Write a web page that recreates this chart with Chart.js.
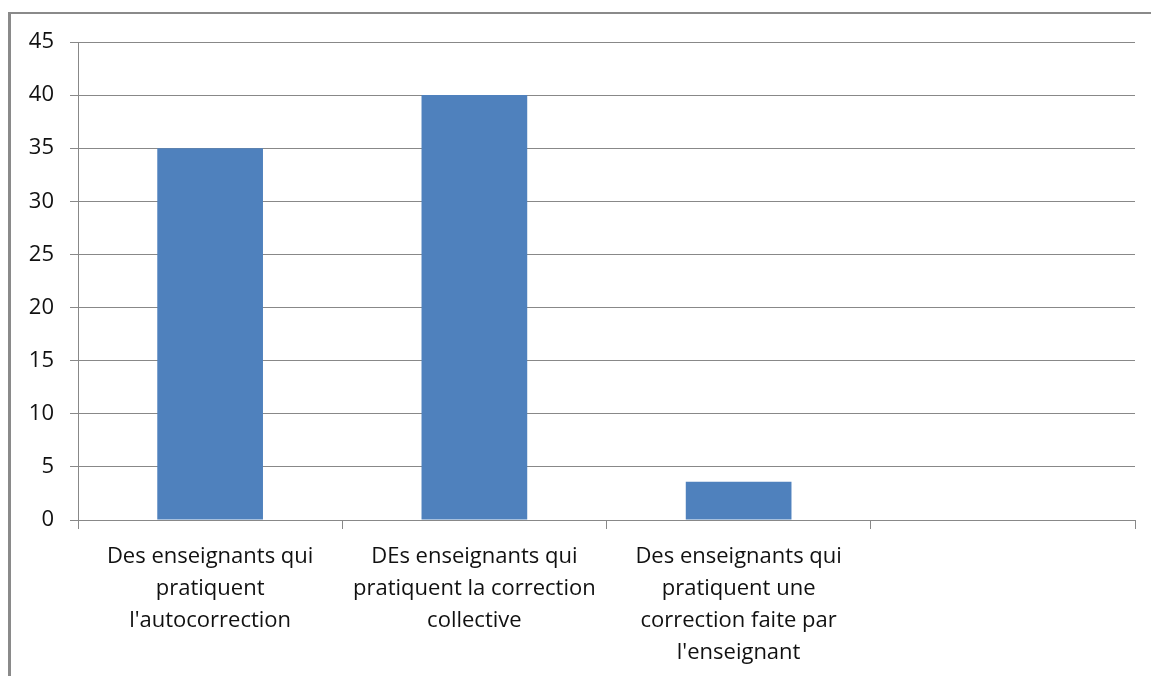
<!DOCTYPE html>
<html>
<head>
<meta charset="utf-8">
<script src="https://cdn.jsdelivr.net/npm/chart.js@4/dist/chart.umd.min.js"></script>
<style>
  html, body { margin: 0; padding: 0; background: #fff; }
  #wrap { position: relative; width: 1151px; height: 676px; }
  #frame { position: absolute; left: 8px; top: 12px; right: 0; bottom: 0;
           border-left: 3px solid #8a8a8a; border-top: 2px solid #8a8a8a; pointer-events: none; }
  canvas { position: absolute; left: 0; top: 0; }
</style>
</head>
<body>
<div id="wrap">
  <canvas id="chart" width="1151" height="676"></canvas>
  <div id="frame"></div>
</div>
<script>
const categories = [
  ["Des enseignants qui", "pratiquent", "l'autocorrection"],
  ["DEs enseignants qui", "pratiquent la correction", "collective"],
  ["Des enseignants qui", "pratiquent une", "correction faite par", "l'enseignant"],
  ""
];
const values = [35, 40, 3.6, null];
const yTicks = [0, 5, 10, 15, 20, 25, 30, 35, 40, 45];

const gridColor = "#888888";
const font = { family: "'Open Sans', 'Liberation Sans', sans-serif", size: 22, lineHeight: 1.45 };

const data = {
  labels: categories,
  datasets: [{
    label: "Série 1",
    data: values,
    backgroundColor: "#4F81BD",
    barPercentage: 0.4,
    categoryPercentage: 1
  }]
}

const config = {
  type: "bar",
  data: data,
  options: {
    responsive: false,
    animation: false,
    layout: { padding: { top: 42, right: 16, left: 0, bottom: 0 } },
    plugins: { legend: { display: false }, tooltip: { enabled: false } },
    scales: {
      x: {
        offset: true,
        grid: { offset: true, drawOnChartArea: false, drawTicks: true, tickLength: 9, color: gridColor },
        border: { color: gridColor },
        ticks: { color: "#111", font: font, maxRotation: 0, autoSkip: false, padding: 12 },
        afterFit: s => { s.height = 156; }
      },
      y: {
        min: 0,
        max: 45,
        afterBuildTicks: s => { s.ticks = yTicks.map(v => ({ value: v })); },
        grid: { color: gridColor, tickLength: 8 },
        border: { color: gridColor },
        ticks: { color: "#111", font: font, padding: 16 },
        afterFit: s => { s.width = 78; }
      }
    }
  }
}

const chart = new Chart(document.getElementById("chart"), config);
</script>
</body>
</html>
